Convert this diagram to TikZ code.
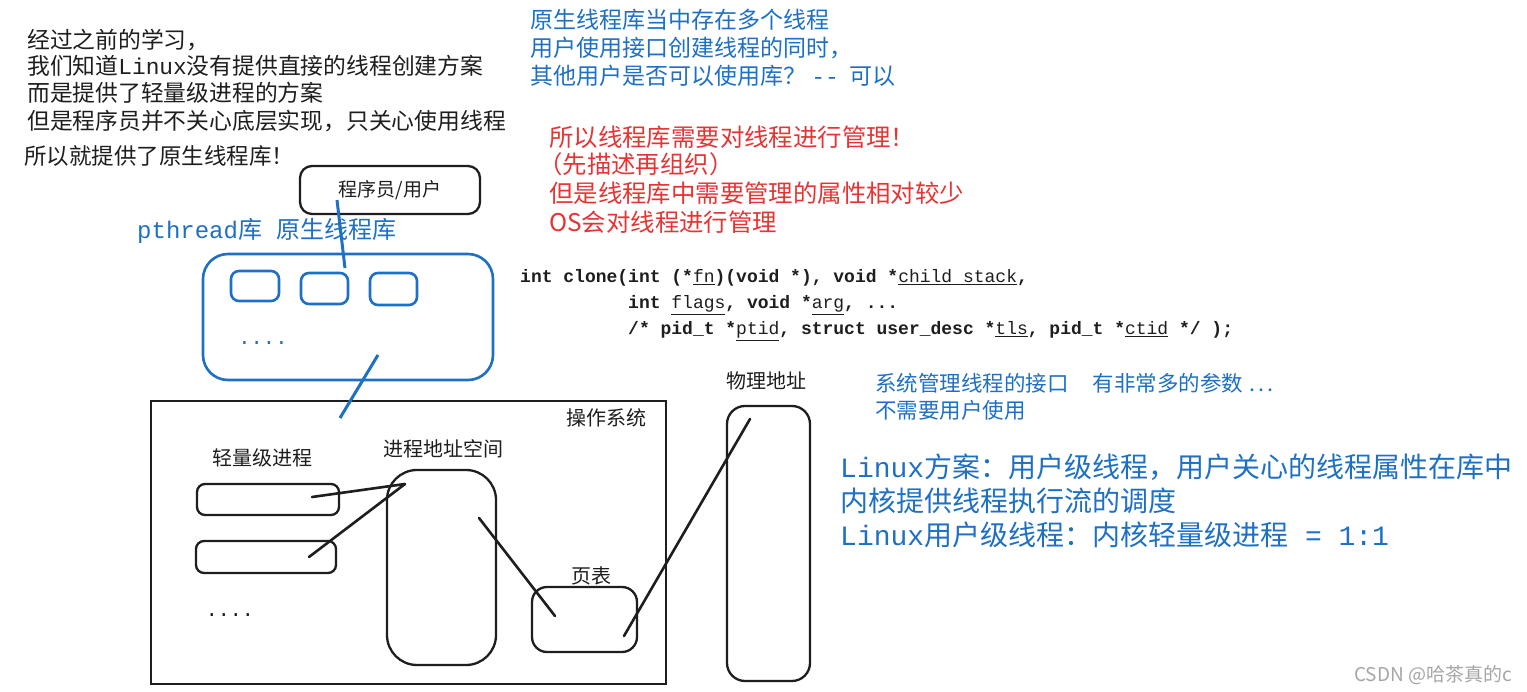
\documentclass[tikz,border=0pt]{standalone}
\usepackage{fontspec}
\setmainfont{Noto Sans CJK SC}
\newfontfamily\mono{Liberation Mono}
\definecolor{inkblack}{RGB}{30,30,30}
\definecolor{myblue}{RGB}{30,112,196}
\definecolor{myred}{RGB}{230,52,52}
\newcommand{\uln}[1]{\underline{\mdseries #1}}
\tikzset{
  txt/.style={anchor=west, inner sep=0pt},
  blk/.style={txt, text=inkblack, font=\fontsize{22.8}{27}\selectfont},
  bluet/.style={txt, text=myblue, font=\fontsize{23}{28}\selectfont},
  redt/.style={txt, text=myred, font=\fontsize{24.4}{28}\selectfont},
  bigblue/.style={txt, text=myblue, font=\fontsize{28}{32}\selectfont},
  midblue/.style={txt, text=myblue, font=\fontsize{21.5}{25}\selectfont},
  codet/.style={txt, text=inkblack, font=\mono\bfseries\fontsize{18}{22}\selectfont},
  lab/.style={inner sep=0pt, text=inkblack, font=\fontsize{20}{24}\selectfont},
  sbox/.style={draw=inkblack, line width=2.3pt, rounded corners=8pt, inner sep=0pt},
  bbox/.style={draw=myblue, line width=2.6pt, rounded corners=8pt, inner sep=0pt},
  bline/.style={draw=myblue, line width=3pt},
  kline/.style={draw=inkblack, line width=2.6pt, line cap=round},
}
\begin{document}
\begin{tikzpicture}[x=1pt,y=-1pt]
\useasboundingbox[fill=white] (0,0) rectangle (1527,692);

% top-left black text
\node[blk] (t1) at (27,40) {经过之前的学习，};
\node[blk] (t2) at (27,66) {我们知道{\mono Linux}没有提供直接的线程创建方案};
\node[blk] (t3) at (27,93) {而是提供了轻量级进程的方案};
\node[blk] (t4) at (27,121) {但是程序员并不关心底层实现，只关心使用线程};
\node[blk, font=\fontsize{22.5}{26}\selectfont] (t5) at (24,156) {所以就提供了原生线程库！};

% top blue text
\node[bluet] (b1) at (530,20) {原生线程库当中存在多个线程};
\node[bluet] (b2) at (530,48) {用户使用接口创建线程的同时，};
\node[bluet] (b3) at (530,76) {其他用户是否可以使用库？\ {\mono -{}-}\ \ 可以};

% red text
\node[redt] (r1) at (549,137) {所以线程库需要对线程进行管理！};
\node[redt] (r2) at (538,164) {（先描述再组织）};
\node[redt] (r3) at (549,193) {但是线程库中需要管理的属性相对较少};
\node[redt] (r4) at (549,222) {OS会对线程进行管理};

% code
\node[codet] (c1) at (520,278) {int clone(int (*\uln{fn})(void *), void *\uln{child stack},};
\node[codet] (c2) at (628,305) {int \uln{flags}, void *\uln{arg}, ...};
\node[codet] (c3) at (628,331) {/* pid\_t *\uln{ptid}, struct user\_desc *\uln{tls}, pid\_t *\uln{ctid} */ );};

% user box and library
\node[sbox, rounded corners=12pt, minimum width=180pt, minimum height=48pt, font=\fontsize{19}{22}\selectfont, text=inkblack] (user) at (390,190) {程序员/用户};
\node[txt, text=myblue, font=\fontsize{24}{28}\selectfont] (plib) at (137,231) {{\mono pthread}库\hspace{14pt}原生线程库};
\node[bbox, rounded corners=25pt, minimum width=290pt, minimum height=126pt] (lib) at (348,317) {};
\node[bbox, minimum width=48pt, minimum height=30pt] (th1) at (255,286) {};
\node[bbox, minimum width=47pt, minimum height=31pt] (th2) at (324.5,288.5) {};
\node[bbox, minimum width=47pt, minimum height=32pt] (th3) at (393.5,289) {};
\node[anchor=base, inner sep=0pt, text=myblue, font=\mono\fontsize{20.5}{24}\selectfont] (ldots) at (263,345) {....};

% operating system
\node[draw=inkblack, line width=2.3pt, minimum width=515pt, minimum height=283pt, inner sep=0pt] (os) at (408.5,542.5) {};
\node[lab] (oslab) at (606,418) {操作系统};
\node[lab] (lwplab) at (262,458) {轻量级进程};
\node[sbox, minimum width=142pt, minimum height=31pt] (lwp1) at (268,499.5) {};
\node[sbox, minimum width=140pt, minimum height=32pt] (lwp2) at (266,557) {};
\node[anchor=base, inner sep=0pt, text=inkblack, font=\mono\fontsize{20}{24}\selectfont] (odots) at (230,616) {....};
\node[lab] (aslab) at (443,449) {进程地址空间};
\node[sbox, rounded corners=30pt, minimum width=109pt, minimum height=195pt] (as) at (441.5,567.5) {};
\node[lab] (ptlab) at (591,576) {页表};
\node[sbox, rounded corners=15pt, minimum width=105pt, minimum height=65pt] (pt) at (584.5,619.5) {};

% physical memory
\node[lab] (pmlab) at (766,381) {物理地址};
\node[sbox, rounded corners=18pt, minimum width=83pt, minimum height=275pt] (pm) at (768.5,543.5) {};

% right blue text
\node[midblue] (s1) at (875,383) {系统管理线程的接口\hspace{24pt}有非常多的参数\hspace{6pt}.\kern3pt.\kern3pt.};
\node[midblue] (s2) at (875,410) {不需要用户使用};
\node[bigblue] (k1) at (840,467) {{\mono Linux}方案：用户级线程，用户关心的线程属性在库中};
\node[bigblue] (k2) at (840,501) {内核提供线程执行流的调度};
\node[bigblue] (k3) at (840,535) {{\mono Linux}用户级线程：内核轻量级进程{\mono{} = 1:1}};

% watermark
\node[anchor=east, inner sep=0pt, text=black!35, font=\fontsize{19}{22}\selectfont] (wm) at (1512,675) {CSDN @哈茶真的c};

% connector end points
\coordinate (u0) at (337,200);
\coordinate (u1) at (345,268);
\coordinate (l0) at (378,355);
\coordinate (l1) at (340,418);
\coordinate (w1) at (312,497);
\coordinate (w2) at (309,557);
\coordinate (a0) at (405,484);
\coordinate (a1) at (479,518);
\coordinate (p0) at (555,616);
\coordinate (p1) at (624,636);
\coordinate (m0) at (750,419);

% connectors
\draw[bline] (u0) -- (u1);
\draw[bline] (l0) -- (l1);
\draw[kline] (w1) -- (a0);
\draw[kline] (w2) -- (a0);
\draw[kline] (a1) -- (p0);
\draw[kline] (p1) -- (m0);
\end{tikzpicture}
\end{document}
